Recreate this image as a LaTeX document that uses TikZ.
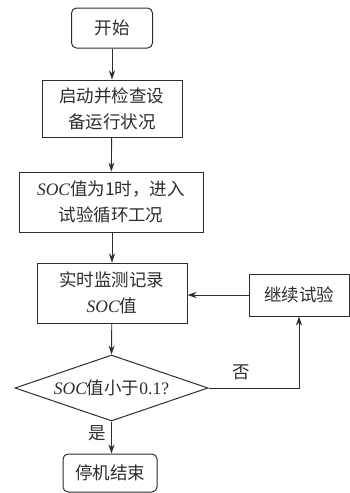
\documentclass[tikz,border=0pt]{standalone}
\usepackage{fontspec}
\setmainfont{Liberation Serif}
\newfontfamily\cjk{Noto Sans CJK SC}
\usetikzlibrary{shapes.geometric,arrows.meta}
\definecolor{ink}{RGB}{45,45,45}
\begin{document}
\begin{tikzpicture}[x=1pt,y=-1pt,
 box/.style={draw=ink,line width=1pt,text=ink,align=center,font=\fontsize{17.5}{26}\selectfont\cjk,inner sep=0pt},
 lbl/.style={text=ink,font=\fontsize{17.5}{20}\selectfont\cjk,inner sep=0pt},
 arr/.style={draw=ink,line width=0.9pt,-{Stealth[length=9pt,width=6pt]}}]
\useasboundingbox (0,0) rectangle (350,493);
\node[box,rounded corners=5pt,minimum width=81pt,minimum height=40pt] (start) at (112,28) {开始};
\node[box,minimum width=140pt,minimum height=57pt] (check) at (112,108.5) {启动并检查设\\备运行状况};
\node[box,minimum width=184pt,minimum height=60pt] (enter) at (111,202) {{\rmfamily\itshape SOC}值为1时，进入\\试验循环工况};
\node[box,minimum width=150pt,minimum height=60pt] (mon) at (112,293) {实时监测记录\\{\rmfamily\itshape SOC}值};
\node[box,minimum width=100pt,minimum height=42pt] (cont) at (299,295) {继续试验};
\node[box,diamond,shape aspect=2.9,minimum width=193pt,minimum height=66pt] (dec) at (111.5,388) {{\rmfamily\itshape SOC}值小于{\rmfamily 0.1?}};
\node[box,rounded corners=5pt,minimum width=94pt,minimum height=38pt] (stop) at (110,473) {停机结束};
\node[lbl] (no) at (241,372) {否};
\node[lbl] (yes) at (97,433) {是};
\draw[arr] (start) -- (check);
\draw[arr] (check) -- (enter);
\draw[arr] (enter.south -| mon.north) -- (mon);
\draw[arr] (mon) -- (dec.north);
\draw[arr] (dec.south) -- (stop.north -| dec.south);
\draw[arr] (cont) -- (mon.east |- cont.west);
\draw[arr] (dec.east) -- (dec.east -| cont.south) -- (cont.south);
\end{tikzpicture}
\end{document}
